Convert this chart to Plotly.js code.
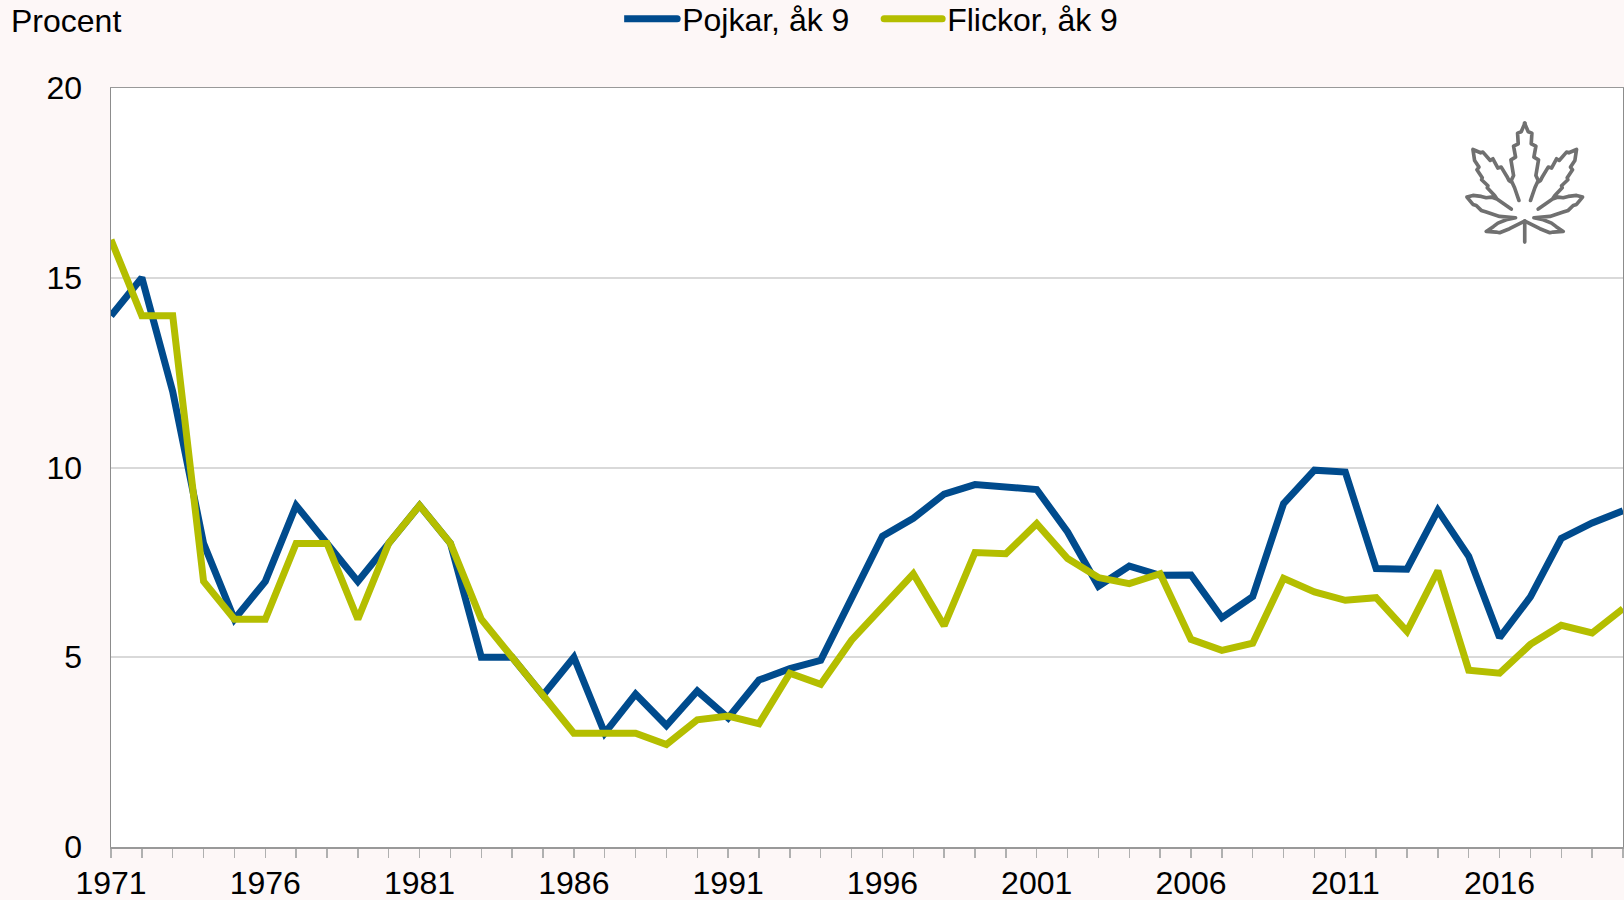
<!DOCTYPE html>
<html><head><meta charset="utf-8">
<script src="https://cdn.plot.ly/plotly-3.0.1.min.js"></script>
<style>
html,body{margin:0;padding:0;background:#fdf7f7;overflow:hidden}
#chart{width:1624px;height:900px}
.legendlines path{stroke-linecap:round}
</style></head><body><div id="chart"></div>
<script>
const years=[1971,1972,1973,1974,1975,1976,1977,1978,1979,1980,1981,1982,1983,1984,1985,1986,1987,1988,1989,1990,1991,1992,1993,1994,1995,1996,1997,1998,1999,2000,2001,2002,2003,2004,2005,2006,2007,2008,2009,2010,2011,2012,2013,2014,2015,2016,2017,2018,2019,2020];
const pojkar=[14,15,12,8,6,7,9,8,7,8,9,8,5,5,4,5,3,4.03,3.2,4.11,3.4,4.4,4.7,4.92,6.6,8.19,8.66,9.3,9.55,9.5,9.42,8.3,6.87,7.4,7.16,7.17,6.04,6.6,9.05,9.93,9.88,7.34,7.32,8.87,7.66,5.52,6.59,8.13,8.54,8.86];
const flickor=[16,14,14,7,6,6,8,8,6,8,9,8,6,5,4,3,3,3,2.7,3.35,3.45,3.25,4.58,4.29,5.45,6.35,7.2,5.83,7.76,7.73,8.52,7.6,7.1,6.94,7.2,5.47,5.18,5.37,7.08,6.72,6.5,6.57,5.68,7.28,4.66,4.58,5.34,5.84,5.64,6.28];
const labelledYears=[1971,1976,1981,1986,1991,1996,2001,2006,2011,2016];
const yTicks=[0,5,10,15,20];
const W=1624,H=900,L=110.5,R=1623.5,T=87.5,B=847;
const half="M298,300 L285,262 L275,240 L282,225 L274,178 L288,170 L282,137 L296,130 L294,98 L305,94 L316,68 M275,245 L268,240 L262,228 L245,200 L235,203 L220,175 L212,180 L190,155 L183,157 L160,147 L165,180 L178,200 L172,208 L188,232 L186,238 L205,256 L203,262 L225,285 L232,296 L275,326 M232,296 L215,290 L200,292 L185,288 L160,285 L142,290 L160,312 L170,315 L185,330 L200,335 L240,348 L288,352 L260,358 L235,368 L222,378 L200,393 L230,395 L240,397 L270,385 L315,362";
const svg=`<svg xmlns="http://www.w3.org/2000/svg" width="612" height="480" viewBox="0 0 612 480"><g fill="none" stroke="#707070" stroke-width="11" stroke-linejoin="round" stroke-linecap="round"><path d="${half}"/><path transform="translate(631,0) scale(-1,1)" d="${half}"/><path d="M315.5,362 L315.5,425"/></g></svg>`;
const traces=[
 {x:years,y:pojkar,name:'Pojkar, åk 9',mode:'lines',line:{color:'#004b8d',width:7,shape:'linear'}},
 {x:years,y:flickor,name:'Flickor, åk 9',mode:'lines',line:{color:'#b4be00',width:7,shape:'linear'}}
];
const font={family:'"Liberation Sans",Arial,sans-serif',color:'#000',size:32};
const layout={
 width:W,height:H,showlegend:true,font,
 paper_bgcolor:'#fdf7f7',plot_bgcolor:'#ffffff',
 margin:{l:L,r:W-R,t:T,b:H-B,pad:0,autoexpand:false},
 xaxis:{type:'linear',range:[1971,2020],tickmode:'array',tickvals:years,
  ticktext:years.map(y=>labelledYears.includes(y)?String(y):''),
  ticks:'outside',ticklen:9,tickwidth:1.5,tickcolor:'#b0b0b0',tickangle:0,ticklabelstandoff:-2,
  showgrid:false,zeroline:false,showline:true,linecolor:'#999999',linewidth:1.5,mirror:true,
  tickfont:{size:32}},
 yaxis:{range:[0,20],tickvals:yTicks,ticks:'',gridcolor:'#d9d9d9',gridwidth:2,zeroline:false,
  showline:true,linecolor:'#8c8c8c',linewidth:1.5,mirror:true,ticklabelstandoff:21,tickfont:{size:32}},
 legend:{orientation:'h',x:(624-L)/(R-L),xanchor:'left',y:(B-18.5)/(B-T),yanchor:'middle',itemwidth:58,indentation:-10,
  entrywidth:202,entrywidthmode:'pixels',font:{size:32},bgcolor:'rgba(0,0,0,0)',traceorder:'normal'},
 annotations:[{text:'Procent',xref:'paper',yref:'paper',x:(8-L)/(R-L),y:(B-20)/(B-T),xanchor:'left',yanchor:'middle',showarrow:false,font:{size:32}}],
 images:[{source:'data:image/svg+xml;charset=utf-8,'+encodeURIComponent(svg),xref:'paper',yref:'paper',
  x:(1420-L)/(R-L),y:(B-100)/(B-T),sizex:204/(R-L),sizey:160/(B-T),xanchor:'left',yanchor:'top',sizing:'stretch',layer:'above'}]
};
Plotly.newPlot('chart',traces,layout,{displayModeBar:false,staticPlot:true});
</script></body></html>
